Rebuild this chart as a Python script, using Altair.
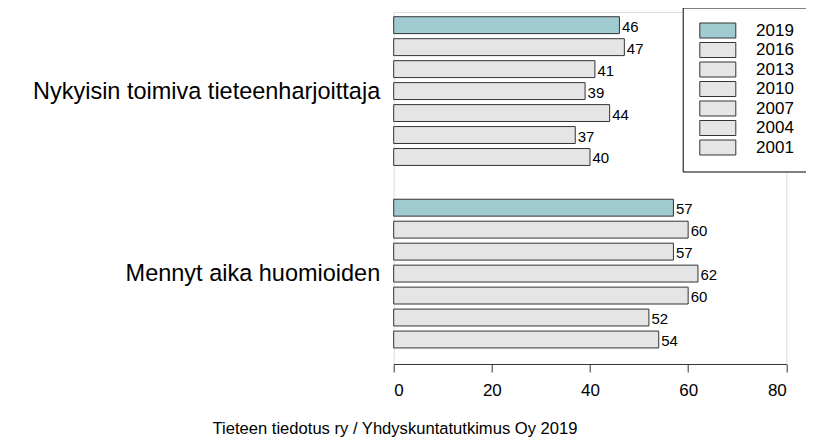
import altair as alt
import pandas as pd

# ---- data ----
groups = ["Nykyisin toimiva tieteenharjoittaja", "Mennyt aika huomioiden"]
years = ["2019", "2016", "2013", "2010", "2007", "2004", "2001"]
values_now = [46, 47, 41, 39, 44, 37, 40]
values_past = [57, 60, 57, 62, 60, 52, 54]
colors = ["#A0CBD1", "#E5E5E5", "#E5E5E5", "#E5E5E5", "#E5E5E5", "#E5E5E5", "#E5E5E5"]
x_ticks = [0, 20, 40, 60, 80]
source = "Tieteen tiedotus ry / Yhdyskuntatutkimus Oy 2019"

# ---- layout (barplot-like spacing in bar units) ----
BAR = 1.0
WITHIN = 0.3
BETWEEN = 2.0
OFFSET = 0.28
DOMAIN_MAX = 20.83

rows = []
centers = []
group_len = len(years) * BAR + (len(years) - 1) * WITHIN
for g, (name, vals) in enumerate(zip(groups, [values_now, values_past])):
    gstart = OFFSET + g * (group_len + BETWEEN)
    centers.append(gstart + group_len / 2)
    for i, (yr, v) in enumerate(zip(years, vals)):
        y0 = gstart + i * (BAR + WITHIN)
        rows.append(dict(group=name, year=yr, value=v, base=0,
                         y0=y0, y1=y0 + BAR, ym=y0 + BAR / 2))
df = pd.DataFrame(rows)

split = (centers[0] + centers[1]) / 2
label_expr = f"datum.value < {split} ? '{groups[0]}' : '{groups[1]}'"

yscale = alt.Scale(domain=[0, DOMAIN_MAX], reverse=True, nice=False, zero=False)
xscale = alt.Scale(domain=[0, 80], nice=False)

FONT = "Liberation Sans"

bars = alt.Chart(df).mark_rect(stroke="#333333", strokeWidth=1).encode(
    x=alt.X("base:Q", scale=xscale,
            axis=alt.Axis(values=x_ticks, title=None, grid=False, tickSize=8,
                          labelFontSize=17, labelColor="black", domainColor="#333333",
                          tickColor="#333333", labelPadding=11, format="d",
                          labelFont=FONT)),
    x2="value:Q",
    y=alt.Y("y0:Q", scale=yscale,
            axis=alt.Axis(values=centers, labelExpr=label_expr, title=None, grid=False,
                          domain=False, ticks=False, labelFontSize=23.5,
                          labelColor="black", labelPadding=14, labelLimit=400,
                          labelFont=FONT)),
    y2="y1:Q",
    fill=alt.Fill("year:N", scale=alt.Scale(domain=years, range=colors),
                  legend=alt.Legend(
                      orient="none", legendX=289, legendY=-4.5, title=None,
                      strokeColor="black", fillColor="white", padding=14.5,
                      symbolType="M-2.4,-1L2.4,-1L2.4,1L-2.4,1Z",
                      symbolSize=225, symbolStrokeColor="#333333",
                      symbolStrokeWidth=1, symbolOpacity=1, symbolOffset=12.1,
                      labelFontSize=17, labelOffset=29.8, rowPadding=0.5,
                      columnPadding=0,
                      labelColor="black", labelFont=FONT)),
)

labels = alt.Chart(df).mark_text(align="left", baseline="middle", dx=2.5, dy=1.5,
                                  fontSize=15, color="black", font=FONT).encode(
    x=alt.X("value:Q", scale=xscale),
    y=alt.Y("ym:Q", scale=yscale),
    text="value:Q",
)

chart = alt.layer(bars, labels).properties(
    width=392.6,
    height=352,
    autosize=alt.AutoSizeParams(type="none"),
    padding={"left": 385.7, "top": 4, "right": 20, "bottom": 78},
    title=alt.TitleParams(source, orient="bottom", anchor="middle", frame="group",
                          fontSize=16.6, fontWeight="normal", color="black",
                          dx=-195, offset=22, font=FONT),
).configure_view(stroke=None).configure(font=FONT)

chart.save("out.html", embed_options={"renderer": "svg", "actions": False})
